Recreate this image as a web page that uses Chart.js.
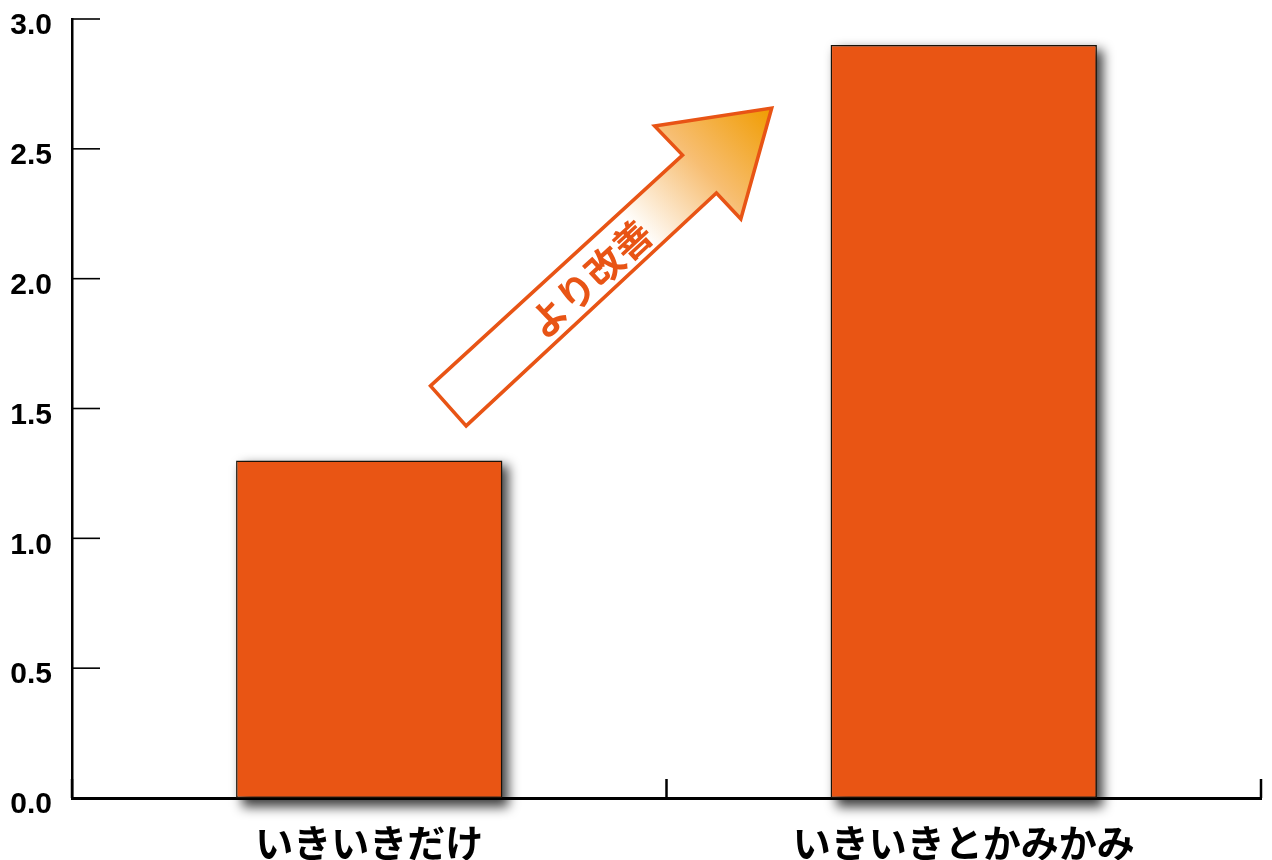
<!DOCTYPE html>
<html>
<head>
<meta charset="utf-8">
<script src="https://cdn.jsdelivr.net/npm/chart.js@4.4.1/dist/chart.umd.min.js"></script>
<style>
  html, body { margin: 0; padding: 0; background: #ffffff; }
  #wrap { width: 1272px; height: 860px; }
</style>
</head>
<body>
<div id="wrap"><canvas id="c" width="1272" height="860"></canvas></div>
<script>
// ---- data ----
const categories = ['いきいきだけ', 'いきいきとかみかみ'];
const values = [1.3, 2.9];
const yTicks = [0, 0.5, 1.0, 1.5, 2.0, 2.5, 3.0];
const annotationText = 'より改善';
// arrow outline in data space: [category index offset, value]
const arrowX = [0.103, 0.527, 0.480, 0.677, 0.625, 0.584, 0.163];
const arrowY = [1.587, 2.476, 2.588, 2.657, 2.230, 2.330, 1.433];
const labelPos = [0.372, 2.0];

const ORANGE = '#E95514';

const shadowPlugin = {
  id: 'barShadow',
  beforeDatasetsDraw(chart) {
    const ctx = chart.ctx;
    const meta = chart.getDatasetMeta(0);
    ctx.save();
    ctx.filter = 'blur(6px)';
    ctx.fillStyle = 'rgba(0,0,0,0.75)';
    meta.data.forEach(el => {
      const p = el.getProps(['x', 'y', 'base', 'width'], true);
      ctx.fillRect(p.x - p.width / 2 + 6, p.y + 5, p.width, p.base - p.y + 4);
    });
    ctx.restore();
  }
};

const tickPlugin = {
  id: 'innerTicks',
  afterDraw(chart) {
    const ctx = chart.ctx;
    const x = chart.scales.x, y = chart.scales.y;
    const area = chart.chartArea;
    ctx.save();
    ctx.strokeStyle = '#000';
    ctx.lineWidth = 1.6;
    yTicks.forEach(v => {
      const py = y.getPixelForValue(v);
      ctx.beginPath();
      ctx.moveTo(area.left, py);
      ctx.lineTo(area.left + 28, py);
      ctx.stroke();
    });
    ctx.lineWidth = 2.5;
    for (let i = 0; i <= categories.length; i++) {
      const px = x.getPixelForValue(i - 0.5);
      ctx.beginPath();
      ctx.moveTo(px, area.bottom);
      ctx.lineTo(px, area.bottom - 19);
      ctx.stroke();
    }
    ctx.restore();

    // arrow annotation
    const pts = arrowX.map((v, i) => [x.getPixelForValue(v), y.getPixelForValue(arrowY[i])]);
    ctx.save();
    const tip = pts[3];
    const grad = ctx.createLinearGradient(x.getPixelForValue(0.40), y.getPixelForValue(2.05), tip[0], tip[1]);
    grad.addColorStop(0, '#ffffff');
    grad.addColorStop(0.2, '#ffffff');
    grad.addColorStop(0.6, '#F7BE72');
    grad.addColorStop(1, '#F09C00');
    ctx.beginPath();
    pts.forEach((p, i) => i ? ctx.lineTo(p[0], p[1]) : ctx.moveTo(p[0], p[1]));
    ctx.closePath();
    ctx.fillStyle = grad;
    ctx.fill();
    ctx.lineWidth = 3.5;
    ctx.lineJoin = 'miter';
    ctx.strokeStyle = '#E85415';
    ctx.stroke();
    const tailMid = [(pts[0][0] + pts[6][0]) / 2, (pts[0][1] + pts[6][1]) / 2];
    const notchMid = [(pts[1][0] + pts[5][0]) / 2, (pts[1][1] + pts[5][1]) / 2];
    const ang = Math.atan2(notchMid[1] - tailMid[1], notchMid[0] - tailMid[0]);
    ctx.translate(x.getPixelForValue(labelPos[0]), y.getPixelForValue(labelPos[1]));
    ctx.rotate(ang);
    ctx.fillStyle = '#E85415';
    ctx.font = 'bold 38px "Noto Sans CJK JP", sans-serif';
    ctx.textAlign = 'center';
    ctx.textBaseline = 'middle';
    ctx.fillText(annotationText, 0, 0);
    ctx.restore();
  }
};

new Chart(document.getElementById('c'), {
  type: 'bar',
  data: {
    labels: categories,
    datasets: [{
      data: values,
      backgroundColor: ORANGE,
      borderColor: '#1a1208',
      borderWidth: 1.5,
      borderSkipped: false,
      categoryPercentage: 1.0,
      barPercentage: 0.448,
      clip: false
    }]
  },
  options: {
    responsive: false,
    animation: false,
    devicePixelRatio: 1,
    layout: { padding: { top: 19, right: 11, left: 0, bottom: 0 } },
    plugins: { legend: { display: false }, tooltip: { enabled: false } },
    scales: {
      x: {
        z: 1,
        grid: { display: false, drawTicks: false },
        border: { display: true, color: '#000', width: 3 },
        ticks: {
          color: '#000',
          padding: 26,
          font: { family: '"Noto Sans CJK JP", sans-serif', size: 38, weight: 'bold', lineHeight: 1 }
        },
        afterFit(s) { s.height = 62; s.paddingLeft = 0; s.paddingRight = 0; }
      },
      y: {
        min: 0, max: 3,
        afterBuildTicks(s) { s.ticks = yTicks.map(v => ({ value: v })); },
        grid: { display: false, drawTicks: false },
        border: { display: true, color: '#000', width: 2.5 },
        ticks: {
          color: '#000',
          padding: 20,
          labelOffset: 7,
          callback: v => Number(v).toFixed(1),
          font: { family: '"Liberation Sans", Arial, sans-serif', size: 30, weight: 'bold' }
        },
        afterFit(s) { s.width = 72; s.paddingTop = 0; s.paddingBottom = 0; }
      }
    }
  },
  plugins: [shadowPlugin, tickPlugin]
});
</script>
</body>
</html>
